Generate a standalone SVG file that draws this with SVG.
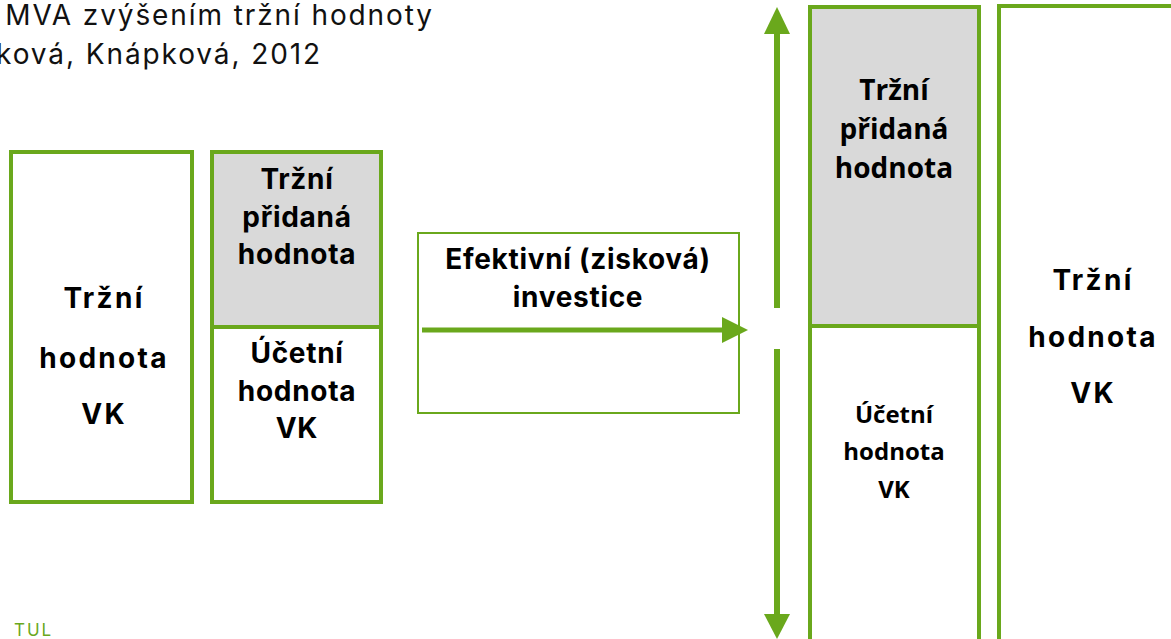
<svg xmlns="http://www.w3.org/2000/svg" width="1171" height="639" viewBox="0 0 1171 639">
<defs>
<style>
.box{fill:#ffffff;stroke:#6aa81c;stroke-width:4}
.gray{fill:#d9d9d9}
.thin{fill:#ffffff;stroke:#6aa81c;stroke-width:2}
.div{stroke:#6aa81c;stroke-width:4}
.lbl{font-family:Inter,"Liberation Sans",sans-serif;font-weight:bold;font-size:28px;fill:#000;text-anchor:middle}
.wide{letter-spacing:2.3px}
.mid{letter-spacing:0.7px}
.lbl2{font-family:"Open Sans","Liberation Sans",sans-serif;font-weight:bold;font-size:28px;fill:#000;text-anchor:middle}
.sm{font-size:24px}
.title{font-family:Inter,"Liberation Sans",sans-serif;font-size:28px;fill:#111;text-anchor:end;letter-spacing:1.9px}
.arr{stroke:#6aa81c;stroke-width:6;fill:none}
.head{fill:#6aa81c}
</style>
</defs>
<text class="title" x="434" y="25">MVA zvýšením tržní hodnoty</text>
<text class="title" x="322" y="64">ková, Knápková, 2012</text>

<g id="node-trzni-hodnota-left">
<rect class="box" x="11" y="152" width="181" height="350"/>
<text class="lbl wide" x="104" y="308">Tržní</text>
<text class="lbl wide" x="104" y="368">hodnota</text>
<text class="lbl wide" x="104" y="424">VK</text>
</g>

<g id="node-left-stack">
<rect class="box" x="212" y="152" width="169" height="350"/>
<rect class="gray" x="214" y="154" width="165" height="173"/>
<line class="div" x1="212" y1="327" x2="381" y2="327"/>
<text class="lbl mid" x="297" y="189">Tržní</text>
<text class="lbl mid" x="297" y="227">přidaná</text>
<text class="lbl mid" x="297" y="264">hodnota</text>
<text class="lbl mid" x="297" y="363">Účetní</text>
<text class="lbl mid" x="297" y="401">hodnota</text>
<text class="lbl mid" x="297" y="438">VK</text>
</g>

<g id="node-investice">
<rect class="thin" x="418" y="233" width="321" height="180"/>
<text class="lbl mid" x="578" y="269">Efektivní (zisková)</text>
<text class="lbl mid" x="578" y="307">investice</text>
</g>

<g id="node-right-stack">
<rect class="box" x="810" y="7" width="169" height="650"/>
<rect class="gray" x="812" y="9" width="165" height="317"/>
<line class="div" x1="810" y1="326" x2="979" y2="326"/>
<text class="lbl2" x="894" y="100">Tržní</text>
<text class="lbl2" x="894" y="139">přidaná</text>
<text class="lbl2" x="894" y="178">hodnota</text>
<text class="lbl2 sm" x="894" y="423">Účetní</text>
<text class="lbl2 sm" x="894" y="460">hodnota</text>
<text class="lbl2 sm" x="894" y="498">VK</text>
</g>

<g id="node-trzni-hodnota-right">
<rect class="box" x="999" y="6" width="200" height="660"/>
<text class="lbl wide" x="1093" y="290">Tržní</text>
<text class="lbl wide" x="1093" y="347">hodnota</text>
<text class="lbl wide" x="1093" y="403">VK</text>
</g>

<g id="connectors">
<line class="arr" x1="422" y1="330" x2="724" y2="330" style="stroke-width:5"/>
<polygon class="head" points="722,317 748,330 722,343"/>
<line class="arr" x1="777" y1="308" x2="777" y2="32"/>
<polygon class="head" points="764,34 777,7 790,34"/>
<line class="arr" x1="777" y1="349" x2="777" y2="616"/>
<polygon class="head" points="764,614 777,639 790,614"/>
</g>

<text x="14" y="636" style="font-family:Inter,'Liberation Sans',sans-serif;font-size:17px;fill:#6aa81c;letter-spacing:2px">TUL</text>
</svg>
